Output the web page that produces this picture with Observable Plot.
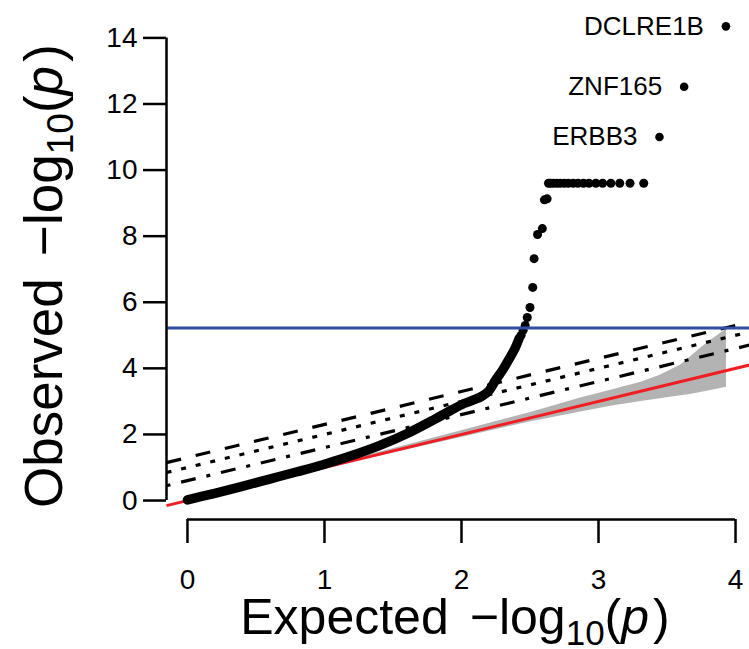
<!DOCTYPE html>
<html>
<head>
<meta charset="utf-8">
<script src="https://cdn.jsdelivr.net/npm/d3@7"></script>
<script src="https://cdn.jsdelivr.net/npm/@observablehq/plot@0.6"></script>
<style>
  html, body { margin: 0; padding: 0; background: #fff; }
  #chart { width: 749px; height: 649px; }
  svg { font-family: "Liberation Sans", Arial, sans-serif; color: #000; }
</style>
</head>
<body>
<div id="chart"></div>
<script>
// ---- data ----
const xTicks = [0, 1, 2, 3, 4];
const yTicks = [0, 2, 4, 6, 8, 10, 12, 14];

// dense part of the QQ curve (expected, observed)
const bulkExpected = [0, 0.2, 0.4, 0.6, 0.8, 1.0, 1.2, 1.4, 1.6, 1.8, 1.9, 2.0, 2.08, 2.15, 2.2, 2.25, 2.3, 2.35, 2.39, 2.42];
const bulkObserved = [0.02, 0.22, 0.43, 0.65, 0.87, 1.1, 1.36, 1.66, 2.02, 2.45, 2.68, 2.9, 3.03, 3.16, 3.32, 3.65, 3.95, 4.3, 4.6, 4.9];

// sparse individual points at the top
const topExpected = [2.435, 2.45, 2.465, 2.48, 2.50, 2.52, 2.53, 2.555, 2.59, 2.605, 2.625,
  2.635, 2.65, 2.67, 2.695, 2.72, 2.75, 2.78, 2.815, 2.85, 2.89, 2.93, 2.98, 3.03, 3.09, 3.155, 3.23, 3.33];
const topObserved = [5.0, 5.15, 5.3, 5.54, 5.84, 6.45, 7.32, 8.05, 8.23, 9.1, 9.13,
  9.6, 9.6, 9.6, 9.6, 9.6, 9.6, 9.6, 9.6, 9.6, 9.6, 9.6, 9.6, 9.6, 9.6, 9.6, 9.6, 9.6];

const geneNames = ["DCLRE1B", "ZNF165", "ERBB3"];
const geneExpected = [3.93, 3.625, 3.445];
const geneObserved = [14.35, 12.52, 11.0];

// grey confidence band
const bandExpected = [0, 0.5, 1.0, 1.5, 2.0, 2.5, 2.87, 3.09, 3.31, 3.45, 3.60, 3.67, 3.745, 3.82, 3.934];
const bandUpper    = [0, 0.52, 1.04, 1.57, 2.11, 2.66, 3.10, 3.34, 3.58, 3.79, 4.10, 4.34, 4.61, 4.85, 5.18];
const bandLower    = [0, 0.49, 0.97, 1.44, 1.91, 2.38, 2.68, 2.85, 3.00, 3.08, 3.17, 3.21, 3.27, 3.33, 3.43];

const bonferroni = 5.22;
const refIntercepts = [1.301, 1.0, 0.602];   // dashed, dotted, dot-dash

// ---- build tables ----
const bulkPts = bulkExpected.map((x, i) => ({x, y: bulkObserved[i]}));
const topPts = topExpected.map((x, i) => ({x, y: topObserved[i]}));
const genePts = geneNames.map((name, i) => ({name, x: geneExpected[i], y: geneObserved[i]}));
const bandPts = bandExpected.map((x, i) => ({x, lo: bandLower[i], hi: bandUpper[i]}));

const xDomain = [-0.153, 4.102];
const yDomain = [-0.574, 14.92];
const dashes = ["15,15", "5,10", "4,11,15,11"];

const refMarks = refIntercepts.map((c, i) =>
  Plot.link([c], {
    x1: xDomain[0], y1: d => xDomain[0] + d,
    x2: xDomain[1], y2: d => xDomain[1] + d,
    stroke: "#000", strokeWidth: 3.2, strokeDasharray: dashes[i], clip: true
  })
);

const chart = Plot.plot({
  width: 749,
  height: 649,
  marginLeft: 166,
  marginRight: 0,
  marginTop: 7,
  marginBottom: 130,
  x: {domain: xDomain},
  y: {domain: yDomain},
  style: {fontFamily: "Liberation Sans, Arial, sans-serif", color: "#000", background: "#fff"},
  marks: [
    Plot.areaY(bandPts, {x: "x", y1: "lo", y2: "hi", fill: "#b3b3b3", clip: true}),
    Plot.link([0], {x1: xDomain[0], y1: xDomain[0], x2: xDomain[1], y2: xDomain[1], stroke: "#f01e23", strokeWidth: 3, clip: true}),
    ...refMarks,
    Plot.line(bulkPts, {x: "x", y: "y", stroke: "#000", strokeWidth: 9.5, strokeLinecap: "round", strokeLinejoin: "round", curve: "catmull-rom"}),
    Plot.dot(topPts, {x: "x", y: "y", r: 4.5, fill: "#000"}),
    Plot.dot(genePts, {x: "x", y: "y", r: 4.3, fill: "#000"}),
    Plot.text(genePts, {x: "x", y: "y", text: "name", textAnchor: "end", dx: -22, fontSize: 26, fill: "#000"}),
    Plot.ruleY([bonferroni], {stroke: "#2f4fa6", strokeWidth: 3}),
    // axis lines (R style: from first to last tick)
    Plot.ruleX([xDomain[0]], {y1: yTicks[0], y2: yTicks[yTicks.length - 1], stroke: "#000", strokeWidth: 2.5}),
    Plot.ruleY([yDomain[0]], {x1: xTicks[0], x2: xTicks[xTicks.length - 1], stroke: "#000", strokeWidth: 2.5}),
    Plot.axisY({ticks: yTicks, tickSize: 23, tickPadding: 6, fontSize: 28, strokeWidth: 2.5, label: null, tickFormat: d => String(d)}),
    Plot.axisX({ticks: xTicks, tickSize: 24, tickPadding: 26, fontSize: 28, strokeWidth: 2.5, label: null, tickFormat: d => String(d)})
  ]
});

document.getElementById("chart").appendChild(chart);

// ---- axis titles with sub-script and italic p ----
const svg = d3.select(chart);
function mathTitle(t, word) {
  t.append("tspan").text(word);
  t.append("tspan").attr("dx", "0.42em").text("\u2212log");
  t.append("tspan").attr("dy", 11).attr("font-size", "0.7em").text("10");
  t.append("tspan").attr("dy", -11).text("(");
  t.append("tspan").attr("font-style", "italic").text("p");
  t.append("tspan").attr("dx", "0.08em").text(")");
}
const xt = svg.append("text")
  .attr("x", 455).attr("y", 634)
  .attr("text-anchor", "middle")
  .attr("font-size", 50)
  .attr("fill", "#000");
mathTitle(xt, "Expected");

const yt = svg.append("text")
  .attr("transform", "translate(62,276) rotate(-90)")
  .attr("text-anchor", "middle")
  .attr("font-size", 53)
  .attr("fill", "#000");
mathTitle(yt, "Observed");
</script>
</body>
</html>
